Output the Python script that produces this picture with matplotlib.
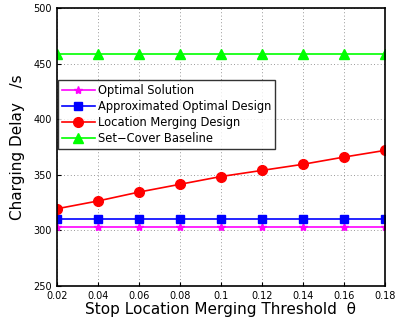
import matplotlib
matplotlib.use('Agg')
import matplotlib.pyplot as plt

# Data
theta = [0.02, 0.04, 0.06, 0.08, 0.10, 0.12, 0.14, 0.16, 0.18]
optimal = [303, 303, 303, 303, 303, 303, 303, 303, 303]
approx = [310, 310, 310, 310, 310, 310, 310, 310, 310]
merging = [319.5, 326.5, 334.5, 341.5, 348.5, 354, 359.5, 366, 372]
setcover = [459, 459, 459, 459, 459, 459, 459, 459, 459]
xticks = [0.02, 0.04, 0.06, 0.08, 0.1, 0.12, 0.14, 0.16, 0.18]
xtick_labels = ['0.02', '0.04', '0.06', '0.08', '0.1', '0.12', '0.14', '0.16', '0.18']
yticks = [250, 300, 350, 400, 450, 500]

fig = plt.figure(figsize=(4, 3.25), dpi=100)
ax = fig.add_axes([0.1425, 0.12, 0.82, 0.855])

ax.plot(theta, optimal, color='#ff00ff', marker='*', markersize=6, linewidth=1.2, label='Optimal Solution')
ax.plot(theta, approx, color='#0000ff', marker='s', markersize=5.5, linewidth=1.2, label='Approximated Optimal Design')
ax.plot(theta, merging, color='#ff0000', marker='o', markersize=7, linewidth=1.2, label='Location Merging Design')
ax.plot(theta, setcover, color='#00ff00', marker='^', markersize=7, linewidth=1.2, label='Set\u2212Cover Baseline')

ax.set_xlim(0.02, 0.18)
ax.set_ylim(250, 500)
ax.set_xticks(xticks)
ax.set_xticklabels(xtick_labels)
ax.set_yticks(yticks)
ax.tick_params(labelsize=7, direction='in', length=3)
ax.grid(True, linestyle=(0, (1, 3)), color='#777777', linewidth=0.6)
for s in ax.spines.values():
    s.set_linewidth(1.2)

ax.set_xlabel('Stop Location Merging Threshold  \u03b8', fontsize=11, labelpad=1)
ax.set_ylabel('Charging Delay   /s', fontsize=11, labelpad=6)

leg = ax.legend(loc='upper left', bbox_to_anchor=(0.0, 0.745), fontsize=8.3, frameon=True,
                fancybox=False, edgecolor='black', borderpad=0.3, labelspacing=0.28,
                handlelength=2.9, handletextpad=0.3, borderaxespad=0.1)
leg.get_frame().set_linewidth(1.0)

fig.savefig('out.png', dpi=100)
